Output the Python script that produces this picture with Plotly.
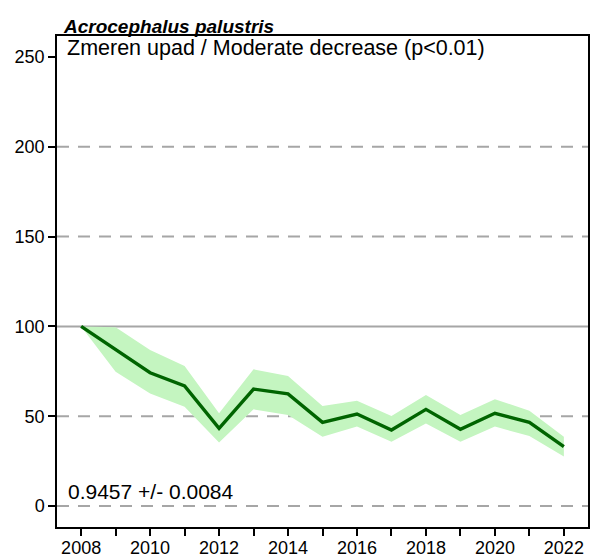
import plotly.graph_objects as go

years = list(range(2008, 2023))
index_values = [100, 86.9, 74.2, 66.8, 43.2, 65.1, 62.4, 46.6, 51.2, 42.3, 53.8, 42.7, 51.6, 46.6, 33.0]
upper_ci = [100, 99.5, 86.9, 78.0, 51.6, 76.1, 72.4, 55.7, 58.6, 50.1, 61.8, 50.7, 59.4, 53.1, 38.6]
lower_ci = [100, 74.8, 62.7, 55.3, 35.3, 53.8, 50.7, 38.6, 44.2, 35.8, 46.0, 35.8, 44.2, 39.0, 27.5]
y_ticks = [0, 50, 100, 150, 200, 250]
x_tick_labels = [str(y) if y % 2 == 0 else "" for y in years]
dashed_levels = [0, 50, 150, 200]

species = "Acrocephalus palustris"
trend_text = "Zmeren upad / Moderate decrease (p<0.01)"
slope_text = "0.9457 +/- 0.0084"

font = "Liberation Sans, Arial, sans-serif"

fig = go.Figure()

# confidence band
fig.add_trace(go.Scatter(
    x=years + years[::-1],
    y=upper_ci + lower_ci[::-1],
    fill="toself",
    fillcolor="#c4f5c0",
    line=dict(width=0),
    mode="lines",
    hoverinfo="skip",
    showlegend=False,
))

# reference lines
for lvl in dashed_levels:
    fig.add_hline(y=lvl, line=dict(color="#a6a6a6", width=2, dash="12px,9px"), layer="below")
fig.add_hline(y=100, line=dict(color="#a6a6a6", width=2), layer="below")

fig.add_trace(go.Scatter(
    x=years, y=index_values, mode="lines",
    line=dict(color="#006400", width=3.4),
    showlegend=False,
))

fig.update_layout(
    width=592, height=559,
    margin=dict(l=57, r=4, t=36, b=32),
    paper_bgcolor="white", plot_bgcolor="white",
    font=dict(family=font, size=18, color="black"),
)
fig.update_xaxes(
    range=[2007.3, 2022.7], tickvals=years, ticktext=x_tick_labels,
    ticks="outside", ticklen=7, tickwidth=1.5, tickcolor="black",
    showline=True, linecolor="black", linewidth=1.5, mirror=True,
    showgrid=False, zeroline=False, automargin=False, ticklabelstandoff=-3,
)
fig.update_yaxes(
    range=[-11.7, 261.7], tickvals=y_ticks,
    ticks="outside", ticklen=7, tickwidth=1.5, tickcolor="black",
    showline=True, linecolor="black", linewidth=1.5, mirror=True,
    showgrid=False, zeroline=False, automargin=False,
)

fig.add_annotation(
    text="<b><i>" + species + "</i></b>", xref="paper", yref="paper",
    x=0, y=1, xanchor="left", yanchor="bottom", xshift=4, yshift=-3,
    showarrow=False, font=dict(size=19),
)
fig.add_annotation(
    text=trend_text, xref="paper", yref="paper",
    x=0, y=1, xanchor="left", yanchor="top", xshift=8, yshift=2,
    showarrow=False, font=dict(size=21.5),
)
fig.add_annotation(
    text=slope_text, xref="paper", yref="paper",
    x=0, y=0, xanchor="left", yanchor="bottom", xshift=9, yshift=22,
    showarrow=False, font=dict(size=21),
)

fig.write_html(
    "out.html",
    config={"displayModeBar": False},
    post_script="document.body.style.margin='0px';",
)
